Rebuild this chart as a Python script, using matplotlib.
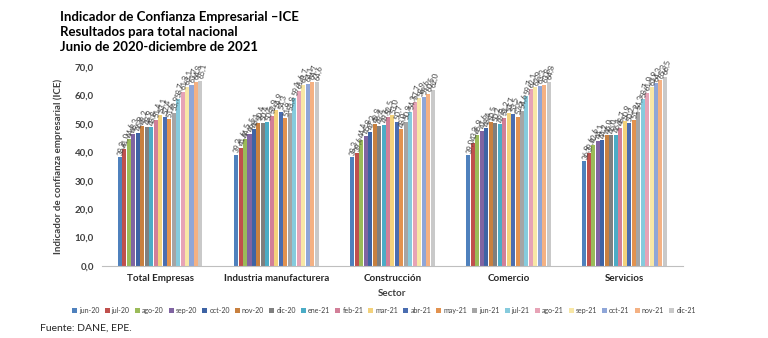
import matplotlib
matplotlib.use("Agg")
import matplotlib.pyplot as plt
import numpy as np

plt.rcParams['font.family'] = ['Lato', 'DejaVu Sans']

sectors = ["Total Empresas", "Industria manufacturera", "Construcción", "Comercio", "Servicios"]
months = ["jun-20", "jul-20", "ago-20", "sep-20", "oct-20", "nov-20", "dic-20", "ene-21",
          "feb-21", "mar-21", "abr-21", "may-21", "jun-21", "jul-21", "ago-21", "sep-21",
          "oct-21", "nov-21", "dic-21"]

total_empresas = [38.2, 41.0, 44.6, 46.3, 46.9, 49.2, 48.9, 48.8, 51.4, 53.1, 52.4, 51.6,
                  53.9, 58.7, 61.3, 63.1, 63.7, 64.8, 65.1]
industria = [39.2, 41.6, 44.5, 46.5, 48.1, 50.4, 50.4, 50.5, 52.9, 54.9, 54.3, 51.9,
             53.8, 59.1, 61.6, 63.7, 64.1, 64.7, 64.6]
construccion = [38.3, 39.6, 44.4, 45.8, 47.2, 49.8, 49.4, 49.6, 52.5, 53.0, 50.7, 48.0,
                50.8, 54.3, 57.7, 58.9, 59.6, 60.5, 62.0]
comercio = [39.0, 43.3, 45.9, 47.6, 48.4, 50.5, 50.2, 49.8, 52.2, 53.7, 53.5, 52.5,
            54.6, 59.7, 62.1, 62.9, 63.3, 63.8, 64.8]
servicios = [36.9, 39.6, 42.6, 44.1, 44.2, 46.0, 46.0, 46.1, 48.7, 50.9, 50.2, 51.2,
             54.3, 58.7, 61.0, 62.9, 64.3, 65.3, 66.5]

colors = ["#4F81BD", "#C0504D", "#9BBB59", "#8064A2", "#3E63A4", "#C8803F", "#7F7F7F",
          "#4BACC6", "#D27F98", "#F3D27C", "#4A6DB0", "#E2924F", "#A5A5A5", "#86CBDD",
          "#E7A3B6", "#F8E7A6", "#8FA6D8", "#F4B183", "#C9C9C9"]

data = np.array([total_empresas, industria, construccion, comercio, servicios])

fig = plt.figure(figsize=(7.68, 3.38), dpi=100)
ax = fig.add_axes([0.133, 0.213, 0.756, 0.589])

x = np.arange(len(sectors))
n = len(months)
step = 0.0385
width = 0.0345
for i, m in enumerate(months):
    pos = x - step * (n - 1) / 2 + i * step
    vals = data[:, i]
    ax.bar(pos, vals, width=width, color=colors[i], label=m, zorder=2)
    for px, v in zip(pos, vals):
        ax.text(px + 0.004, v + 0.8, f"{v:.1f}".replace(".", ","), rotation=78,
                fontsize=5.6, color="#404040", ha="left", va="center",
                rotation_mode="anchor")

ax.set_ylim(0, 70)
ax.set_xlim(-0.5, len(sectors) - 0.5)
ax.set_yticks(np.arange(0, 71, 10))
ax.set_yticklabels([f"{v:.1f}".replace(".", ",") for v in np.arange(0, 71, 10)],
                   fontsize=7, color="#404040", fontweight="bold")
ax.set_xticks(x)
ax.set_xticklabels(sectors, fontsize=7, color="#262626", fontweight="bold")
ax.tick_params(axis="both", length=0, pad=6)
for s in ["top", "right", "left"]:
    ax.spines[s].set_visible(False)
ax.spines["bottom"].set_color("#BFBFBF")
ax.set_ylabel("Indicador de confianza empresarial (ICE)", fontsize=7,
              fontweight="bold", color="#404040", labelpad=8)
ax.set_xlabel("Sector", fontsize=7, fontweight="bold", color="#404040", labelpad=4)

handles, labels = ax.get_legend_handles_labels()
fig.legend(handles, labels, loc="center", bbox_to_anchor=(0.5, 0.082), ncol=n,
           fontsize=5.0, frameon=False, handlelength=0.7, handleheight=0.7,
           handletextpad=0.3, columnspacing=0.75, labelcolor="#404040")

fig.text(0.078, 0.95, "Indicador de Confianza Empresarial \u2013ICE", fontsize=9.5,
         fontweight="bold", va="center")
fig.text(0.078, 0.905, "Resultados para total nacional", fontsize=9.5,
         fontweight="bold", va="center")
fig.text(0.078, 0.86, "Junio de 2020-diciembre de 2021", fontsize=9.5,
         fontweight="bold", va="center")
fig.text(0.052, 0.03, "Fuente: DANE, EPE.", fontsize=7.5, va="center", color="#262626")

fig.savefig("out.png", dpi=100)
